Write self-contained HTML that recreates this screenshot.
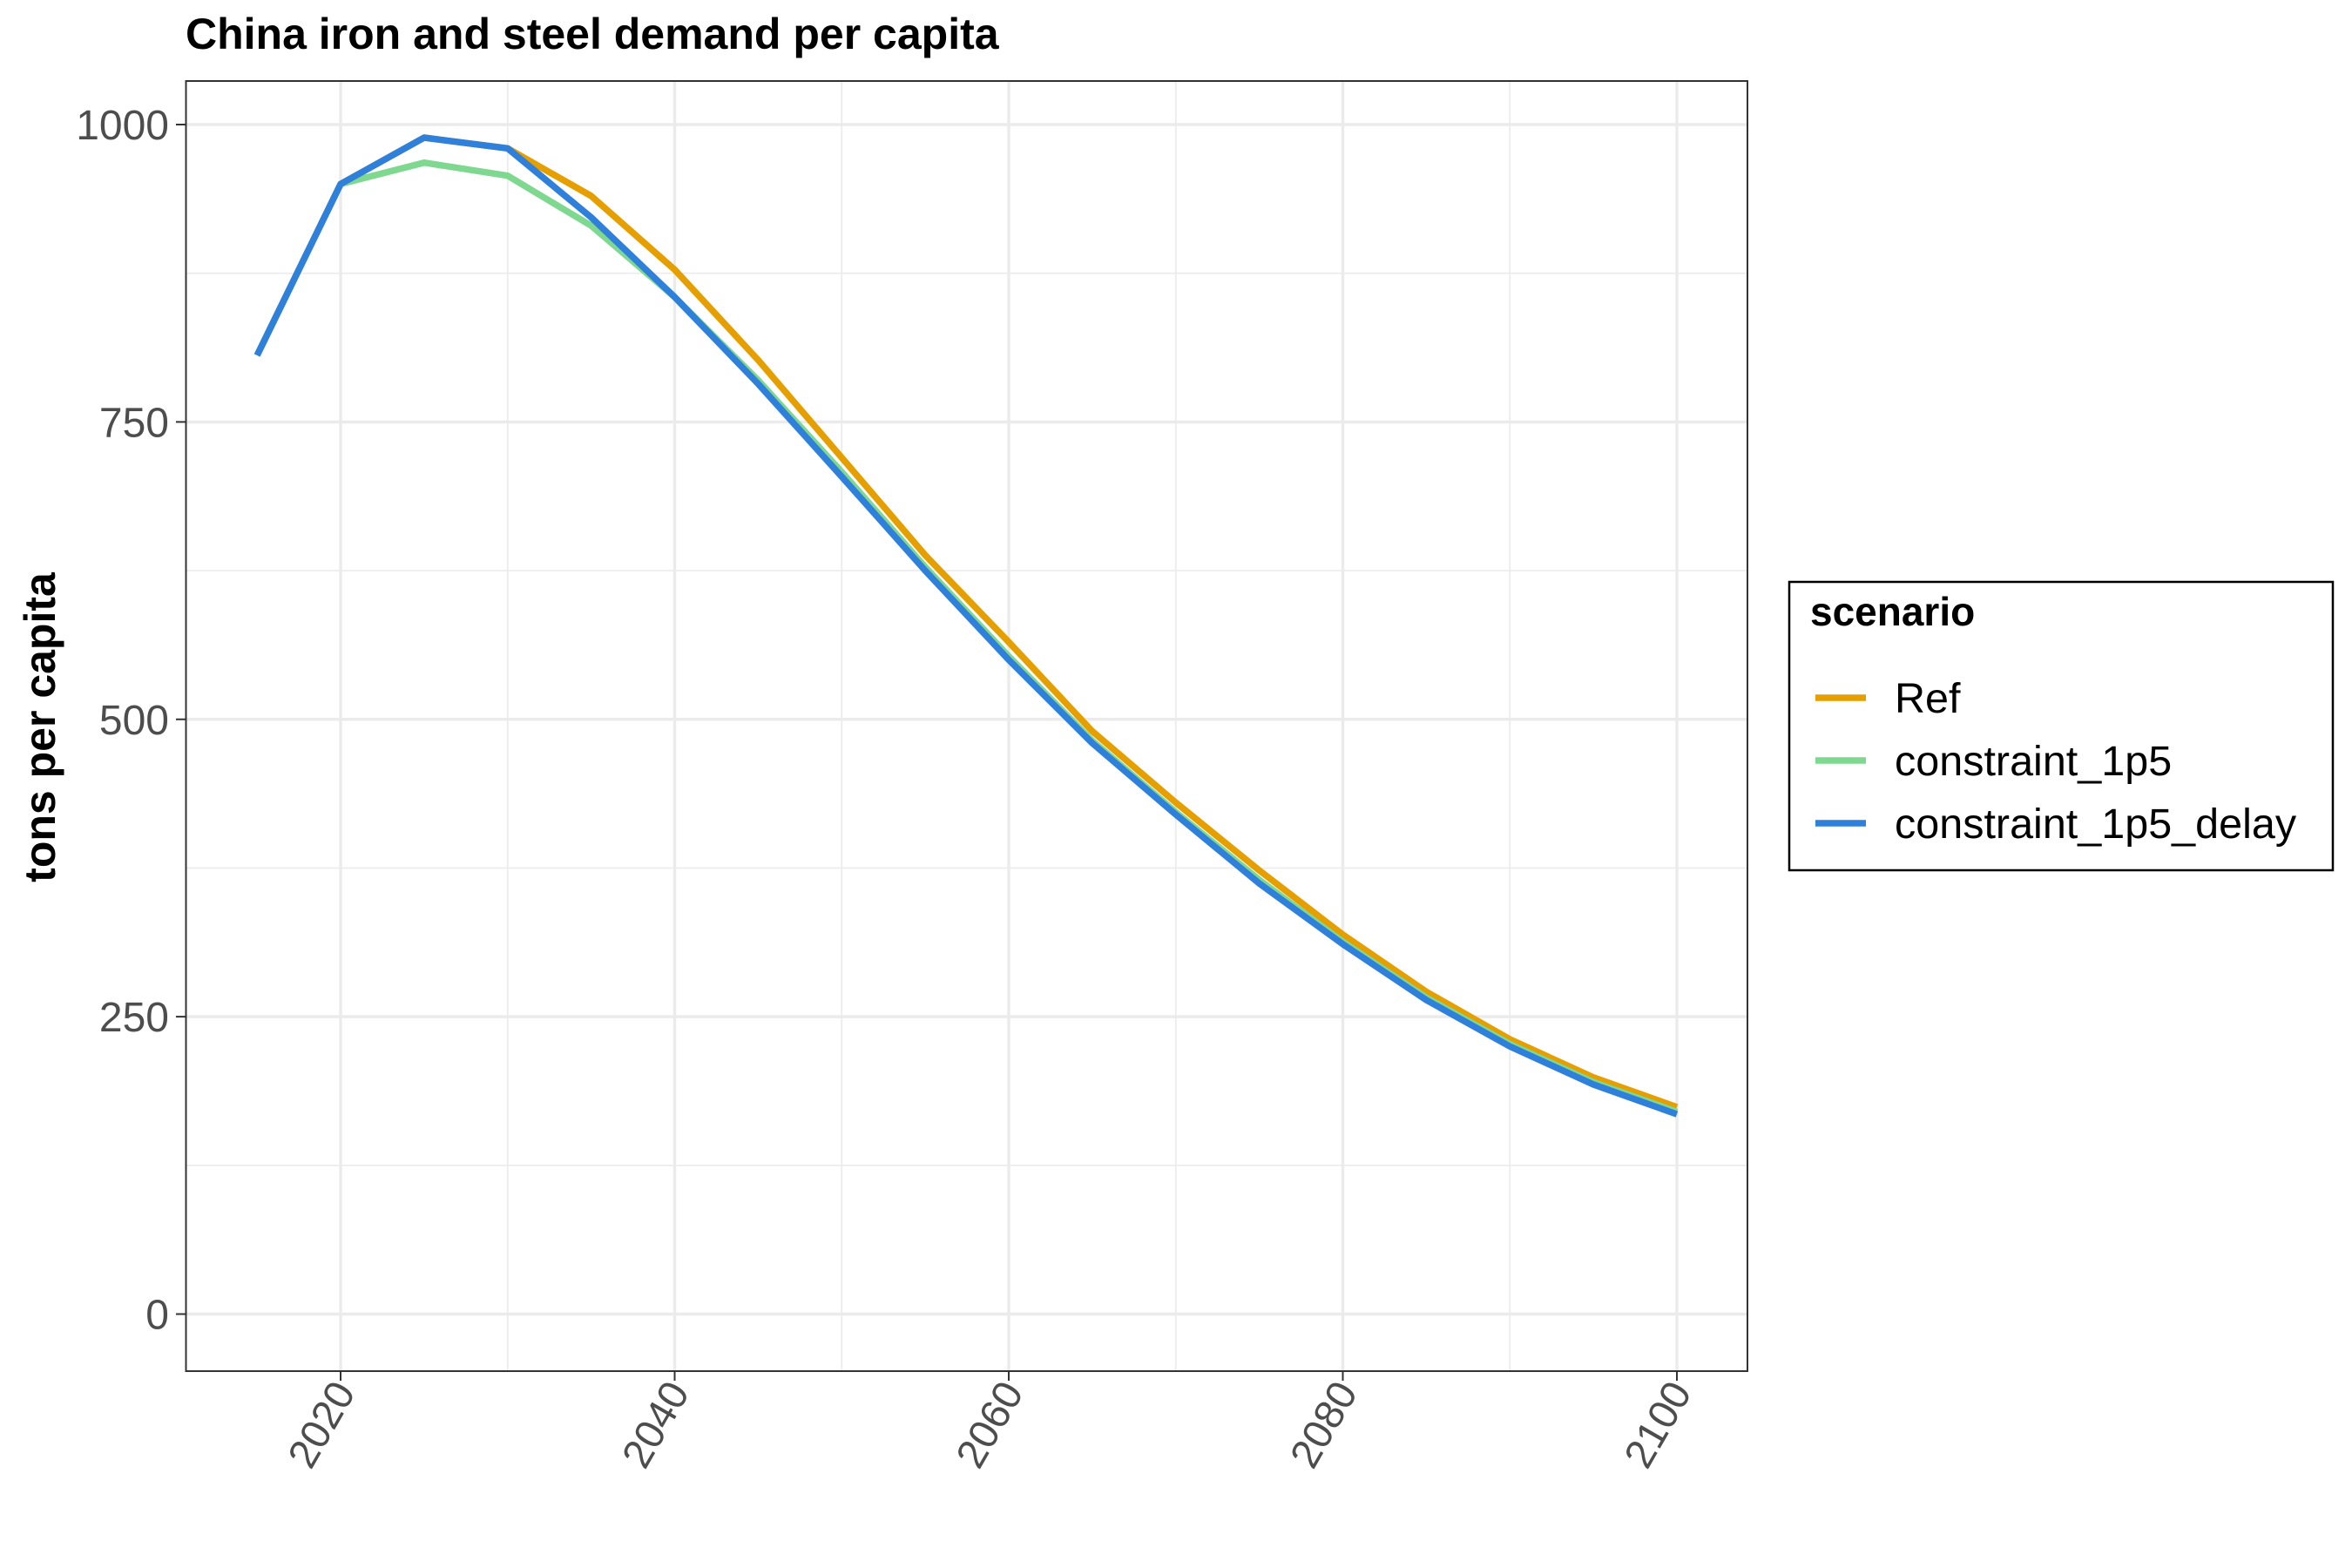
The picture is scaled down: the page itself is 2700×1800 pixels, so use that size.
<!DOCTYPE html>
<html><head><meta charset="utf-8"><style>
body{margin:0;background:#fff;}
svg{display:block;font-family:"Liberation Sans",Arial,sans-serif;}
</style></head><body>
<svg id="chart" width="2700" height="1800" viewBox="0 0 2700 1800">
<text x="213" y="56" font-size="50" font-weight="bold" fill="#000">China iron and steel demand per capita</text>
<g id="grid"></g>
<g id="series"></g>
<rect x="213.5" y="93" width="1792.5" height="1481" fill="none" stroke="#333" stroke-width="2"/>
<g id="axes"></g>
<text transform="translate(63,835) rotate(-90)" text-anchor="middle" font-size="50" font-weight="bold" fill="#000">tons per capita</text>
<g>
<rect x="2054" y="668" width="624" height="331" fill="#fff" stroke="#000" stroke-width="2.5"/>
<text x="2078" y="718" font-size="46" font-weight="bold">scenario</text>
<g id="legend"></g>
</g>
</svg>
<script>
const years=[2015,2020,2025,2030,2035,2040,2045,2050,2055,2060,2065,2070,2075,2080,2085,2090,2095,2100];
const refVals=[806,950,989,980,940,878,802,720,638,565,490,430,373,319,271,231,199,174];
const c1p5Vals=[806,950,968,957,915,855,785,708,628,553,482,422,365,313,266,227,195,170];
const delayVals=[806,950,989,980,922,855,782,704,625,550,480,420,362,311,264,225,193,168];
const seriesNames=["Ref","constraint_1p5","constraint_1p5_delay"];
const seriesColors=["#E69F00","#7FD88F","#2F80DB"];
const yTicks=[0,250,500,750,1000];
const yMinor=[125,375,625,875];
const xTicks=[2020,2040,2060,2080,2100];
const xMinor=[2030,2050,2070,2090];
const X=v=>391+(v-2020)*(1534/80);
const Y=v=>1508.5-v*(1365.5/1000);
const NS="http://www.w3.org/2000/svg";
function mk(tag,attrs,parent){const e=document.createElementNS(NS,tag);for(const k in attrs)e.setAttribute(k,attrs[k]);parent.appendChild(e);return e;}
const grid=document.getElementById('grid'),axes=document.getElementById('axes'),ser=document.getElementById('series'),leg=document.getElementById('legend');
yMinor.forEach(v=>{const l=mk('line',{x1:213.5,x2:2006,y1:Y(v),y2:Y(v),stroke:'#ebebeb','stroke-width':1.7},grid);

});
xMinor.forEach(v=>{const l=mk('line',{x1:X(v),x2:X(v),y1:93,y2:1574,stroke:'#ebebeb','stroke-width':1.7},grid);

});
yTicks.forEach(v=>{const l=mk('line',{x1:213.5,x2:2006,y1:Y(v),y2:Y(v),stroke:'#ebebeb','stroke-width':3.4},grid);


const t=mk('line',{x1:202,x2:213.5,y1:Y(v),y2:Y(v),stroke:'#333','stroke-width':2},axes);


const tx=mk('text',{x:194,y:Y(v)+17,'text-anchor':'end','font-size':48,fill:'#4d4d4d'},axes);tx.textContent=v;

});
xTicks.forEach(v=>{const l=mk('line',{x1:X(v),x2:X(v),y1:93,y2:1574,stroke:'#ebebeb','stroke-width':3.4},grid);


const t=mk('line',{x1:X(v),x2:X(v),y1:1574,y2:1585,stroke:'#333','stroke-width':2},axes);


const tx=mk('text',{transform:`translate(${X(v)+18},1598) rotate(-60)`,'text-anchor':'end','font-size':47,fill:'#4d4d4d'},axes);tx.textContent=v;

});
[refVals,c1p5Vals,delayVals].forEach((vals,i)=>{
const p=mk('polyline',{points:years.map((y,j)=>X(y)+','+Y(vals[j])).join(' '),fill:'none',stroke:seriesColors[i],'stroke-width':7.5,'stroke-linejoin':'round'},ser);


const ly=801+i*72;
const k=mk('line',{x1:2084,x2:2142,y1:ly,y2:ly,stroke:seriesColors[i],'stroke-width':7.5},leg);


const tx=mk('text',{x:2175,y:ly+17,'font-size':48.5,fill:'#000'},leg);tx.textContent=seriesNames[i];

});
</script>
</body></html>
